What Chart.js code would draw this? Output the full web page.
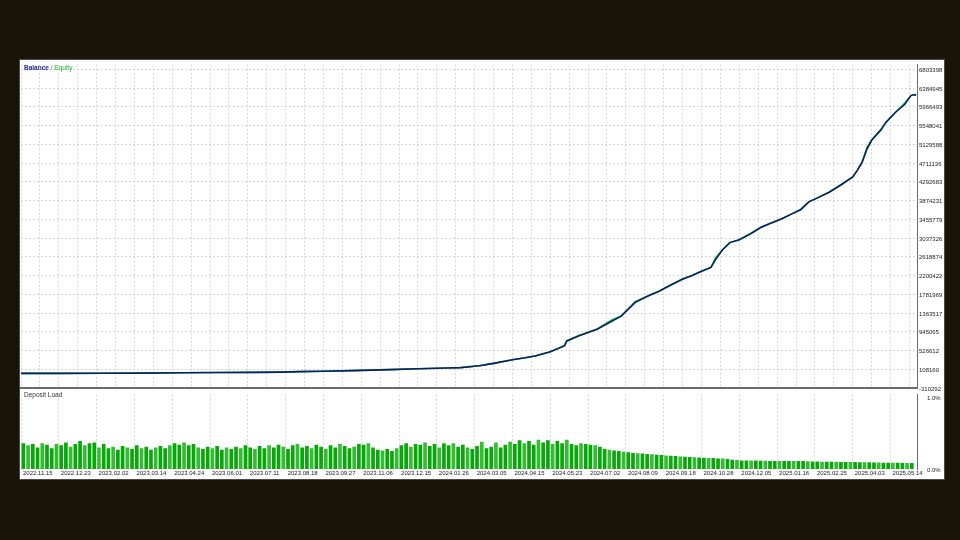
<!DOCTYPE html>
<html>
<head>
<meta charset="utf-8">
<script src="https://cdn.jsdelivr.net/npm/chart.js@4.4.1/dist/chart.umd.min.js"></script>
<style>
  html, body { margin: 0; padding: 0; }
  body { width: 960px; height: 540px; background: #1a1408; position: relative; overflow: hidden; font-family: "Liberation Sans", sans-serif; }
  #frame { position: absolute; left: 19px; top: 59px; width: 926px; height: 421px; background: #fff; border: 1px solid #4a4a4a; box-sizing: border-box; }
  canvas { position: absolute; }
  #topChart { left: 19px; top: 59px; }
  #loadChart { left: 19px; top: 389px; }
  .tag { position: absolute; font-size: 6.5px; line-height: 7px; white-space: nowrap; }
</style>
</head>
<body>
<div id="frame"></div>
<canvas id="topChart" width="926" height="341"></canvas>
<canvas id="loadChart" width="926" height="91"></canvas>
<div class="tag" style="left:24px; top:64px;"><span style="color:#25258f; font-weight:bold;">Balance</span><span style="color:#777;"> / </span><span style="color:#22b022;">Equity</span></div>
<div class="tag" style="left:24px; top:391px; color:#333;">Deposit Load</div>
<script>
// axis labels
const dateLabels = ['2022.11.15', '2022.12.23', '2023.02.02', '2023.03.14', '2023.04.24', '2023.06.01',
    '2023.07.11', '2023.08.18', '2023.09.27', '2023.11.06', '2023.12.15', '2024.01.26',
    '2024.03.05', '2024.04.15', '2024.05.23', '2024.07.02', '2024.08.09', '2024.09.18',
    '2024.10.28', '2024.12.05', '2025.01.16', '2025.02.25', '2025.04.03', '2025.05.14'];
const yTicks = [6803398, 6384945, 5966493, 5548041, 5129588, 4711136, 4292683, 3874231, 3455779,
    3037326, 2618874, 2200422, 1781969, 1363517, 945065, 526612, 108160, -310292];

// balance / equity (x = deal bar index)
const balanceIdx = [0, 8, 17, 26, 34, 42, 49, 55, 59, 64, 70, 74, 78, 84, 90, 93, 97, 100, 104, 107,
    109, 112, 115, 115.5, 118, 122, 125, 127, 130, 133, 135, 137.5, 140, 142, 144, 146, 147, 148.5, 150, 152,
    154.5, 156.5, 158.5, 161, 163, 165, 166.7, 169, 171, 173.5, 176, 177, 178, 179, 180, 182, 183, 185, 187,
    188.3, 189, 189.4];
const balanceValues = [15000, 16000, 18000, 22000, 30000, 34000, 38000, 45000, 55000, 65000, 78000, 88000,
    100000, 120000, 135000, 145000, 185000, 240000, 320000, 370000, 408000, 500000, 630000, 740000, 850000,
    1006000, 1180000, 1294000, 1600000, 1760000, 1850000, 1990000, 2116000, 2200000, 2294000, 2380000,
    2560000, 2780000, 2935000, 3000000, 3135000, 3270000, 3360000, 3467000, 3570000, 3666000, 3844000,
    3955000, 4060000, 4220000, 4398000, 4553000, 4730000, 5018000, 5218000, 5462000, 5617000, 5839000,
    6016000, 6216000, 6238000, 6216000];
const equityValues = [15000, 16000, 18000, 22000, 30000, 34000, 38000, 45000, 55000, 65000, 78000, 88000,
    100000, 120000, 135000, 145000, 185000, 240000, 320000, 370000, 408000, 500000, 640000, 740000, 860000,
    1006000, 1210000, 1294000, 1620000, 1760000, 1850000, 1990000, 2130000, 2200000, 2294000, 2380000,
    2600000, 2780000, 2935000, 3000000, 3150000, 3270000, 3360000, 3467000, 3570000, 3680000, 3844000,
    3955000, 4060000, 4230000, 4398000, 4553000, 4740000, 5060000, 5218000, 5440000, 5617000, 5839000,
    6050000, 6216000, 6238000, 6216000];

// deposit load, %
const loadValues = [
    0.36, 0.33, 0.35, 0.30, 0.36, 0.34, 0.29, 0.35, 0.33, 0.37,
    0.31, 0.35, 0.39, 0.33, 0.36, 0.37, 0.30, 0.35, 0.29, 0.31,
    0.27, 0.32, 0.30, 0.28, 0.33, 0.29, 0.31, 0.27, 0.30, 0.32,
    0.29, 0.33, 0.36, 0.34, 0.37, 0.33, 0.35, 0.30, 0.28, 0.31,
    0.29, 0.32, 0.27, 0.30, 0.28, 0.31, 0.29, 0.33, 0.30, 0.28,
    0.32, 0.29, 0.33, 0.30, 0.34, 0.31, 0.28, 0.33, 0.35, 0.30,
    0.32, 0.29, 0.34, 0.31, 0.28, 0.33, 0.30, 0.35, 0.32, 0.29,
    0.31, 0.35, 0.34, 0.36, 0.30, 0.27, 0.26, 0.28, 0.25, 0.29,
    0.33, 0.36, 0.31, 0.35, 0.34, 0.37, 0.32, 0.35, 0.30, 0.36,
    0.33, 0.36, 0.31, 0.34, 0.30, 0.28, 0.32, 0.38, 0.29, 0.31,
    0.37, 0.30, 0.34, 0.38, 0.35, 0.40, 0.36, 0.39, 0.34, 0.41,
    0.37, 0.40, 0.35, 0.39, 0.36, 0.41, 0.35, 0.33, 0.36, 0.35,
    0.34, 0.33, 0.31, 0.28, 0.27, 0.26, 0.25, 0.24, 0.235, 0.225,
    0.22, 0.215, 0.21, 0.205, 0.20, 0.197, 0.19, 0.185, 0.18, 0.175,
    0.171, 0.168, 0.165, 0.16, 0.158, 0.155, 0.152, 0.148, 0.145, 0.14,
    0.13, 0.125, 0.12, 0.118, 0.118, 0.117, 0.116, 0.115, 0.113, 0.112,
    0.112, 0.112, 0.11, 0.11, 0.11, 0.11, 0.108, 0.106, 0.104, 0.102,
    0.10, 0.10, 0.10, 0.098, 0.098, 0.097, 0.097, 0.096, 0.095, 0.095,
    0.09, 0.09, 0.088, 0.088, 0.087, 0.086, 0.085, 0.085, 0.084];

const X_MAX = 189.6;
const gridColor = '#d4d4d4';
const axisColor = '#6a6a6a';
const tickFont = { family: 'Liberation Sans', size: 6 };

Chart.defaults.animation = false;
Chart.defaults.font.family = 'Liberation Sans';

new Chart(document.getElementById('topChart'), {
    type: 'line',
    data: {
        datasets: [
            {
                label: 'Balance',
                data: balanceIdx.map((x, i) => ({ x: x, y: balanceValues[i] })),
                borderColor: '#0c1d6e',
                borderWidth: 1.6,
                pointRadius: 0,
                tension: 0,
                order: 1
            },
            {
                label: 'Equity',
                data: balanceIdx.map((x, i) => ({ x: x, y: equityValues[i] })),
                borderColor: '#1fbf1f',
                borderWidth: 1.6,
                pointRadius: 0,
                tension: 0,
                order: 2
            }
        ]
    },
    options: {
        responsive: false,
        layout: { padding: { left: 2, top: 3, right: 0, bottom: 12 } },
        plugins: { legend: { display: false }, tooltip: { enabled: false } },
        scales: {
            x: {
                type: 'linear',
                min: 0,
                max: X_MAX,
                afterBuildTicks: function(scale) {
                    const t = [];
                    for (let v = 0; v < X_MAX; v += 4) t.push({ value: v });
                    scale.ticks = t;
                },
                ticks: { display: false },
                grid: { color: gridColor, drawTicks: false },
                border: { display: true, color: axisColor, width: 2, dash: [2, 2] },
                afterFit: function(scale) { scale.height = 0; }
            },
            y: {
                position: 'right',
                min: -310292,
                max: 6907400,
                afterBuildTicks: function(scale) {
                    scale.ticks = yTicks.map(v => ({ value: v }));
                },
                ticks: {
                    font: tickFont,
                    color: '#222',
                    padding: 2,
                    labelOffset: 1,
                    autoSkip: false,
                    callback: function(value) { return String(value); }
                },
                grid: { color: gridColor, drawTicks: false },
                border: { display: true, color: axisColor, width: 1, dash: [2, 2] },
                afterFit: function(scale) { scale.width = 28; }
            }
        }
    }
});

new Chart(document.getElementById('loadChart'), {
    type: 'bar',
    data: {
        datasets: [{
            label: 'Deposit Load',
            data: loadValues.map((v, i) => ({ x: i + 0.5, y: v })),
            backgroundColor: function(ctx) { return ctx.dataIndex % 3 === 1 ? '#34bd34' : '#07a807'; },
            borderWidth: 0,
            barPercentage: 0.78,
            categoryPercentage: 1
        }]
    },
    options: {
        responsive: false,
        layout: { padding: { left: 2, top: 1, right: 0, bottom: 0 } },
        plugins: { legend: { display: false }, tooltip: { enabled: false } },
        scales: {
            x: {
                type: 'linear',
                min: 0,
                max: X_MAX,
                offset: false,
                afterBuildTicks: function(scale) {
                    scale.ticks = dateLabels.map((d, k) => ({ value: k * 8 }));
                },
                ticks: {
                    font: tickFont,
                    color: '#222',
                    align: 'start',
                    labelOffset: 2,
                    padding: 1,
                    maxRotation: 0,
                    autoSkip: false,
                    callback: function(value, index) { return dateLabels[index]; }
                },
                grid: { color: gridColor, drawTicks: false, offset: false },
                border: { display: false, dash: [2, 2] },
                afterFit: function(scale) { scale.height = 11; }
            },
            y: {
                position: 'right',
                min: 0,
                max: 1.039,
                afterBuildTicks: function(scale) {
                    scale.ticks = [{ value: 0 }, { value: 1 }];
                },
                ticks: {
                    font: tickFont,
                    color: '#222',
                    padding: 2,
                    labelOffset: 1,
                    callback: function(value) { return value.toFixed(1) + '%'; }
                },
                grid: { display: false },
                border: { display: true, color: axisColor, width: 1 },
                afterFit: function(scale) { scale.width = 28; }
            }
        }
    }
});
</script>
</body>
</html>
